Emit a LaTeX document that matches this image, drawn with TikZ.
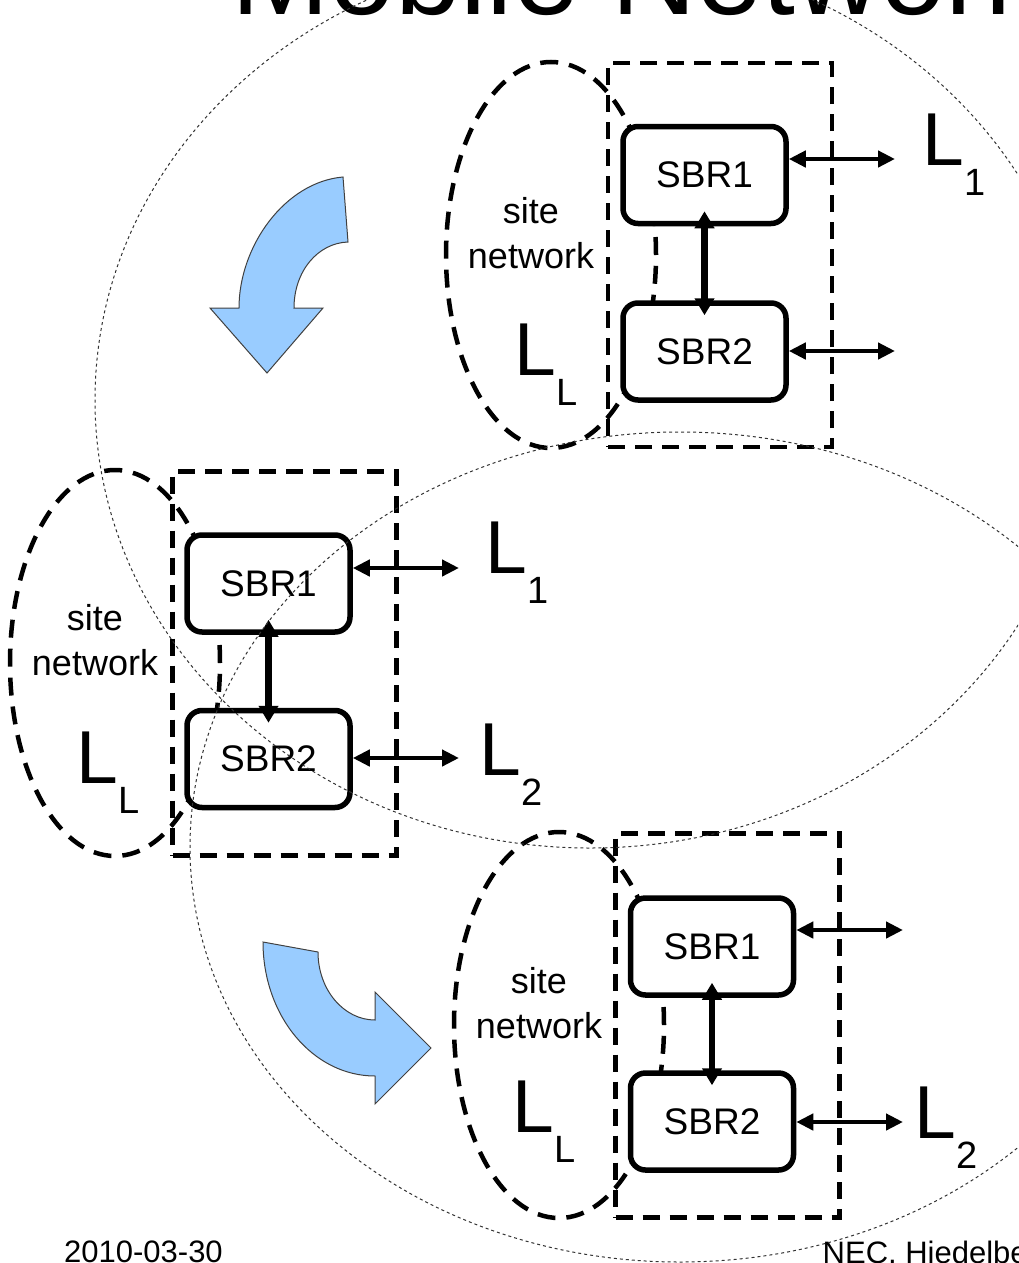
\documentclass[tikz,border=0pt]{standalone}
\usepackage{fontspec}
\setmainfont{Liberation Sans}
\usetikzlibrary{arrows.meta,shapes.geometric,calc}
\definecolor{arrowblue}{HTML}{99CCFF}
\newcommand\Lab[1]{{\fontsize{75}{75}\selectfont L}\raisebox{-30pt}{\fontsize{38}{38}\selectfont #1}}
\begin{document}
\begin{tikzpicture}[x=1pt,y=-1pt,
  sbr/.style={draw, line width=5.5pt, rounded corners=15pt, fill=white, minimum width=163pt, minimum height=97pt, inner sep=0pt, font=\fontsize{37}{40}\selectfont},
  grp/.style={draw, line width=4.5pt, dash pattern=on 17pt off 10pt, minimum width=224pt, minimum height=384pt, inner sep=0pt},
  sitezone/.style={draw, ellipse, line width=4.5pt, dash pattern=on 18pt off 11pt, minimum width=210pt, minimum height=386pt, inner sep=0pt},
  harrow/.style={line width=4.5pt, {Triangle[length=17pt,width=16pt]}-{Triangle[length=17pt,width=16pt]}},
  varrow/.style={line width=6.5pt, {Triangle[length=17pt,width=19pt]}-{Triangle[length=17pt,width=19pt]}},
  sitetext/.style={align=center, font=\fontsize{36}{45}\selectfont, inner sep=0pt, anchor=base},
  lab/.style={anchor=base west, inner sep=0pt},
  bigarrow/.style={fill=arrowblue, draw=black!75, line width=1pt, line join=miter},
  zone/.style={draw=black!80, line width=1pt, dash pattern=on 3pt off 3pt},
  plain/.style={anchor=base west, inner sep=0pt}
]
\path[use as bounding box] (0,0) rectangle (1018,1263);
\clip (0,0) rectangle (1018,1263);

% title and footer
\node[plain, font=\fontsize{118}{118}\selectfont] (title) at (231,15) {Mobile Network};
\node[plain, font=\fontsize{31}{31}\selectfont] (date) at (64,1262) {2010-03-30};
\node[plain, font=\fontsize{31}{31}\selectfont] (org) at (822.5,1263) {NEC, Hiedelberg};

% ---------- top group ----------
\node[sitezone] (ts) at (551,255) {};
\node[grp] (tg) at (720,255) {};
\node[sbr] (tA) at (704.5,175) {SBR1};
\node[sbr] (tB) at (704.5,351.5) {SBR2};
\coordinate (tAe) at (895,159);
\coordinate (tBe) at (895,351);
\draw[harrow] (tA.east |- tAe) -- (tAe);
\draw[harrow] (tB.east |- tBe) -- (tBe);
\draw[varrow] ($(tA.south)+(0,-15)$) -- ($(tB.north)+(0,15)$);
\node[sitetext] (tst) at (531,268) {site\\network};
\node[lab] (tL1) at (922.5,165) {\Lab{1}};
\node[lab] (tLL) at (514.5,375) {\Lab{L}};

% ---------- middle group ----------
\node[sitezone] (ms) at (115,663) {};
\node[grp] (mg) at (284.5,663.5) {};
\node[sbr] (mA) at (268.5,583.5) {SBR1};
\node[sbr] (mB) at (268.5,759) {SBR2};
\coordinate (mAe) at (459,568);
\coordinate (mBe) at (459,758);
\draw[harrow] (mA.east |- mAe) -- (mAe);
\draw[harrow] (mB.east |- mBe) -- (mBe);
\draw[varrow] ($(mA.south)+(0,-15)$) -- ($(mB.north)+(0,15)$);
\node[sitetext] (mst) at (95,675) {site\\network};
\node[lab] (mL1) at (485.5,573) {\Lab{1}};
\node[lab] (mL2) at (479.5,775) {\Lab{2}};
\node[lab] (mLL) at (76.5,783) {\Lab{L}};

% ---------- bottom group ----------
\node[sitezone] (bs) at (559,1025) {};
\node[grp] (bg) at (727.5,1025.5) {};
\node[sbr] (bA) at (712,946.5) {SBR1};
\node[sbr] (bB) at (712,1121.5) {SBR2};
\coordinate (bAe) at (903,930);
\coordinate (bBe) at (903,1122);
\draw[harrow] (bA.east |- bAe) -- (bAe);
\draw[harrow] (bB.east |- bBe) -- (bBe);
\draw[varrow] ($(bA.south)+(0,-15)$) -- ($(bB.north)+(0,15)$);
\node[sitetext] (bst) at (539,1038) {site\\network};
\node[lab] (bL2) at (914.5,1138) {\Lab{2}};
\node[lab] (bLL) at (512.5,1132) {\Lab{L}};

% ---------- blue curved arrows ----------
\draw[bigarrow] (343,177) -- (348,242) .. controls (318,243) and (294,271) .. (294,308)
  -- (323,308) -- (267,373) -- (210,308) -- (239,308)
  .. controls (239,246) and (285,182) .. (343,177) -- cycle;
\draw[bigarrow] (263,942) -- (318,952) .. controls (318,990) and (344,1020) .. (375,1020)
  -- (375,992) -- (431,1048) -- (375,1104) -- (375,1076)
  .. controls (313,1076) and (263,1016) .. (263,942) -- cycle;

% ---------- dotted zones ----------
\draw[zone] (590,400) ellipse [x radius=495pt, y radius=448pt];
\draw[zone] (680,847) ellipse [x radius=490pt, y radius=415pt];
\end{tikzpicture}
\end{document}
